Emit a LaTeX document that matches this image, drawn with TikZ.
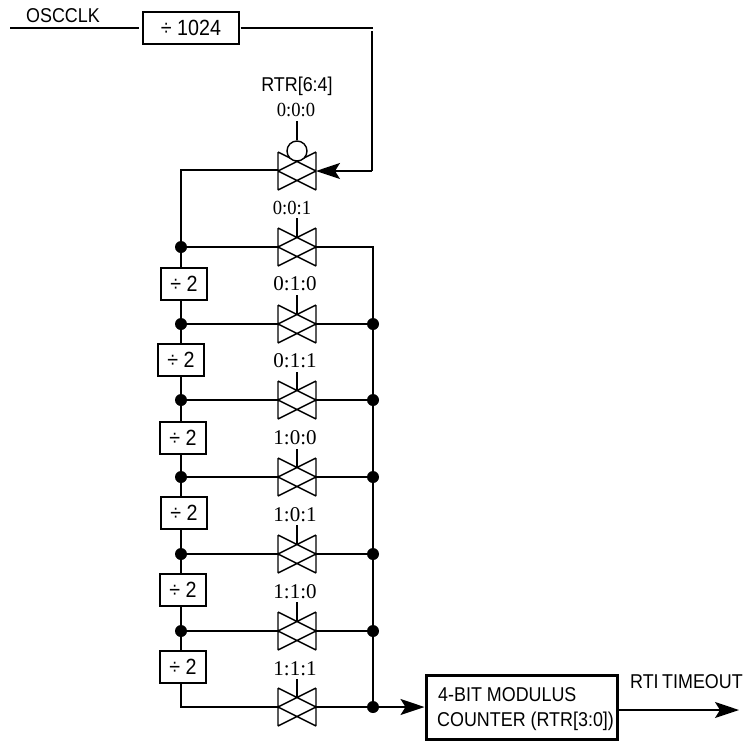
\documentclass[tikz,border=0pt]{standalone}
\usepackage{fontspec}
\setmainfont{Liberation Sans}
\newfontfamily\narrowfont[FakeStretch=0.895]{Liberation Sans}
\newfontfamily\digitfont{Liberation Serif}
\newfontfamily\tightdigit[FakeStretch=0.93]{Liberation Serif}
\usetikzlibrary{arrows.meta,calc}
\tikzset{
  x=1pt,y=-1pt,
  wire/.style={draw=black,line width=1.5pt},
  bigarrow/.style={wire,-{Stealth[length=24pt,width=16pt,inset=5pt]}},
  gatebox/.style={inner sep=0pt,outer sep=0pt,minimum width=38pt,minimum height=38pt},
  divbox/.style={draw=black,line width=1.4pt,fill=white,inner sep=0pt,minimum width=46pt,minimum height=32pt,font=\narrowfont\fontsize{22}{24}\selectfont},
  dot/.style={circle,fill=black,inner sep=0pt,minimum size=12pt},
  seltext/.style={font=\digitfont\fontsize{21}{23}\selectfont,inner sep=0pt,anchor=base},
  tightsel/.style={font=\tightdigit\fontsize{20}{22}\selectfont,inner sep=0pt,anchor=base},
  lab/.style={font=\narrowfont\fontsize{20}{22}\selectfont,inner sep=0pt,anchor=base}
}
\newcommand{\gatesym}[3]{%
  \node[gatebox] (#1) at (#2,#3) {};
  \draw[line width=1.4pt,line join=miter]
    (#1.north west) -- (#1.east) (#1.north east) -- (#1.west)
    (#1.west) -- (#1.south east) (#1.east) -- (#1.south west)
    (#1.north west) -- (#1.south west) (#1.north east) -- (#1.south east);
}
\begin{document}
\begin{tikzpicture}
\useasboundingbox (0,0) rectangle (747,740);
% top row
\coordinate (in) at (10,28);
\coordinate (topr) at (373,28);
\node[divbox,minimum width=96pt,minimum height=32pt] (d1024) at (191,28) {÷ 1024};
\node[lab] (osc) at (63,22) {OSCCLK};
\draw[wire] (in) -- ($(d1024.west)+(-3,0)$);
\draw[wire] ($(d1024.east)+(1,0)$) -- (topr);
\node[lab] (rtr) at (297,91) {RTR[6:4]};
% gates
\gatesym{g0}{297}{171}
\gatesym{g1}{297}{247}
\gatesym{g2}{297}{324}
\gatesym{g3}{297}{400}
\gatesym{g4}{297}{477}
\gatesym{g5}{297}{554}
\gatesym{g6}{297}{631}
\gatesym{g7}{297}{707}
% select labels
\node[tightsel] (s0) at (296,116) {0:0:0};
\node[tightsel] (s1) at (292,214) {0:0:1};
\node[seltext] (s2) at (295,290) {0:1:0};
\node[seltext] (s3) at (295,367) {0:1:1};
\node[seltext] (s4) at (295,444) {1:0:0};
\node[seltext] (s5) at (295,521) {1:0:1};
\node[seltext] (s6) at (295,598) {1:1:0};
\node[seltext] (s7) at (295,675) {1:1:1};
% inverter bubble and stubs
\node[circle,draw=black,line width=1.4pt,fill=white,inner sep=0pt,minimum size=20pt] (bub) at (297,151) {};
\draw[line width=1.4pt] (bub.north) -- (297,121);
\foreach \g/\yt in {g1/218,g2/295,g3/372,g4/449,g5/525,g6/602,g7/679}
  \draw[line width=1.4pt] ($(\g.north)+(0,9.5)$) -- (297,\yt);
% left-bus dots
\node[dot] (l1) at (181,247) {};
\node[dot] (l2) at (181,324) {};
\node[dot] (l3) at (181,400) {};
\node[dot] (l4) at (181,477) {};
\node[dot] (l5) at (181,554) {};
\node[dot] (l6) at (181,631) {};
% right-bus dots
\node[dot] (r2) at (373,324) {};
\node[dot] (r3) at (373,400) {};
\node[dot] (r4) at (373,477) {};
\node[dot] (r5) at (373,554) {};
\node[dot] (r6) at (373,631) {};
\node[dot] (r7) at (373,707) {};
% dividers
\node[divbox] (d1) at (184,284) {÷ 2};
\node[divbox] (d2) at (181,360) {÷ 2};
\node[divbox] (d3) at (183,438) {÷ 2};
\node[divbox] (d4) at (184,513) {÷ 2};
\node[divbox] (d5) at (183,590) {÷ 2};
\node[divbox] (d6) at (183,667) {÷ 2};
% left bus
\coordinate (l0) at (181,170);
\coordinate (l7) at (181,707);
\draw[wire] (g0.west |- l0) -- (l0) -- (l1.center);
\draw[wire] (l1.center) -- (181,268);
\draw[wire] (181,300) -- (l2.center) -- (181,344);
\draw[wire] (181,376) -- (l3.center) -- (181,422);
\draw[wire] (181,454) -- (l4.center) -- (181,497);
\draw[wire] (181,529) -- (l5.center) -- (181,574);
\draw[wire] (181,606) -- (l6.center) -- (181,651);
\draw[wire] (181,683) -- (l7) -- (g7.west);
% rungs
\draw[wire] (l1) -- (g1.west);
\draw[wire] (l2) -- (g2.west);
\draw[wire] (l3) -- (g3.west);
\draw[wire] (l4) -- (g4.west);
\draw[wire] (l5) -- (g5.west);
\draw[wire] (l6) -- (g6.west);
\draw[wire] (g2.east) -- (r2);
\draw[wire] (g3.east) -- (r3);
\draw[wire] (g4.east) -- (r4);
\draw[wire] (g5.east) -- (r5);
\draw[wire] (g6.east) -- (r6);
\draw[wire] (g7.east) -- (r7);
% right bus
\coordinate (r1) at (373,247);
\draw[wire] (g1.east) -- (r1) -- (r7.center);
% input with arrow
\coordinate (drop) at (372,171);
\draw[wire] (372,31) -- (drop);
\draw[bigarrow] (drop) -- (g0.east);
% counter
\node[draw=black,line width=3pt,fill=white,minimum width=191pt,minimum height=64pt,inner sep=0pt] (cnt) at (521.5,707) {};
\node[lab,anchor=base west] (c1) at (438,701) {4-BIT MODULUS};
\node[lab,anchor=base west] (c2) at (437,726) {COUNTER (RTR[3:0])};
\draw[bigarrow] (r7) -- (cnt.west);
\coordinate (outp) at (739,710);
\draw[bigarrow] (cnt.east |- outp) -- (outp);
\node[lab,anchor=base west] (rti) at (630,688) {\spaceskip=3.5pt RTI TIMEOUT};
\end{tikzpicture}
\end{document}
